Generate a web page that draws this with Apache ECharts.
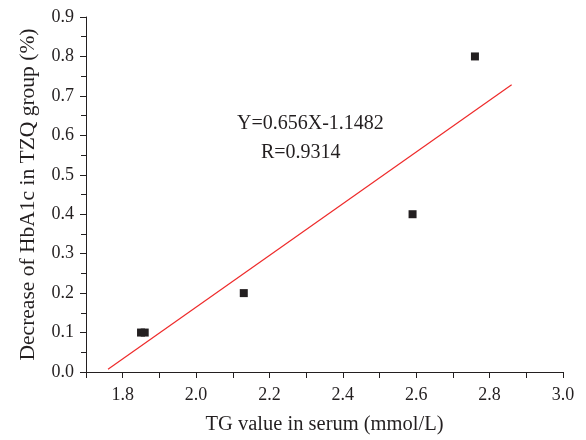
<!DOCTYPE html>
<html><head><meta charset="utf-8">
<script src="https://cdn.jsdelivr.net/npm/echarts@6/dist/echarts.min.js"></script>
<style>html,body{margin:0;padding:0;background:#fff}#c{width:586px;height:440px}</style>
</head><body><div id="c"></div>
<script>
var tgValues = [1.85, 1.86, 2.13, 2.59, 2.76];
var hba1cDecrease = [0.1, 0.1, 0.2, 0.4, 0.8];
var fitX = [1.76, 2.86];
var fitY = [0.007, 0.728];
var equationText = 'Y=0.656X-1.1482';
var rText = 'R=0.9314';
var xTitle = 'TG value in serum (mmol/L)';
var yTitle = 'Decrease of HbA1c in TZQ group (%)';

var font = 'Liberation Serif';
var ink = '#231f20';
var chart = echarts.init(document.getElementById('c'));
chart.setOption({
  animation: false,
  textStyle: {fontFamily: font},
  grid: {left: 86, right: 23, top: 17, bottom: 67},
  xAxis: {
    type: 'value', min: 1.7, max: 3.0, interval: 0.1,
    name: xTitle, nameLocation: 'middle', nameGap: 42,
    nameTextStyle: {fontFamily: font, fontSize: 20.5, color: ink},
    axisLine: {show: true, onZero: false, lineStyle: {color: ink, width: 1}},
    axisTick: {show: true, length: 6, lineStyle: {color: ink}},
    axisLabel: {fontFamily: font, fontSize: 18, color: ink, margin: 14, showMinLabel: true,
      formatter: function (v) {
        var k = Math.round(v * 10);
        return k % 2 === 0 ? (k / 10).toFixed(1) : '';
      }},
    splitLine: {show: false}
  },
  yAxis: {
    type: 'value', min: 0, max: 0.9, interval: 0.1,
    name: yTitle, nameLocation: 'middle', nameGap: 47,
    nameTextStyle: {fontFamily: font, fontSize: 21.5, color: ink},
    axisLine: {show: true, onZero: false, lineStyle: {color: ink, width: 1}},
    axisTick: {show: true, length: 6, lineStyle: {color: ink}},
    minorTick: {show: true, splitNumber: 2, length: 5, lineStyle: {color: ink}},
    axisLabel: {fontFamily: font, fontSize: 18, color: ink, margin: 12,
      formatter: function (v) { return v.toFixed(1); }},
    splitLine: {show: false}
  },
  series: [
    {
      type: 'line',
      data: fitX.map(function (x, i) { return [x, fitY[i]]; }),
      showSymbol: false, symbol: 'none',
      lineStyle: {color: '#ee2a2a', width: 1.2},
      z: 2
    },
    {
      type: 'scatter',
      data: tgValues.map(function (x, i) { return [x, hba1cDecrease[i]]; }),
      symbol: 'rect', symbolSize: 8,
      itemStyle: {color: ink, opacity: 1},
      z: 3
    }
  ],
  graphic: [
    {type: 'text', left: 237, top: 114, style: {text: equationText, font: '20px "Liberation Serif"', fill: ink}},
    {type: 'text', left: 261, top: 143, style: {text: rText, font: '20px "Liberation Serif"', fill: ink}}
  ]
});
</script></body></html>
